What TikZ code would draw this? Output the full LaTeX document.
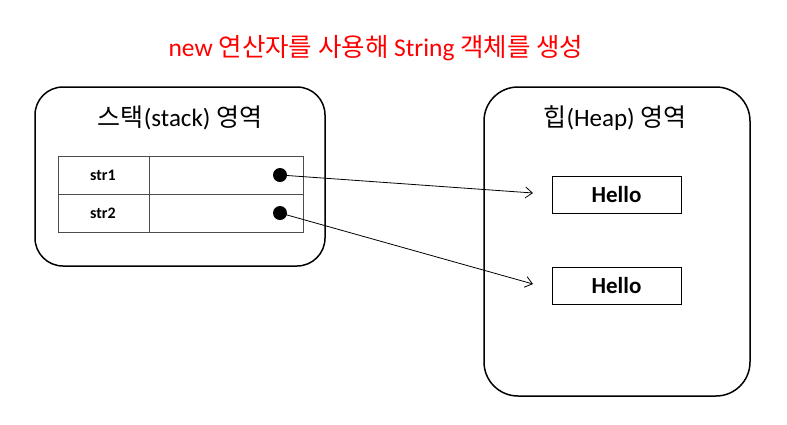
\documentclass[tikz,border=0pt]{standalone}
\usepackage{fontspec}
\setmainfont{Carlito}
\newfontfamily\kr{Noto Sans CJK KR}
\newcommand\K[1]{{\kr #1}}
\usetikzlibrary{arrows.meta}
\begin{document}
\begin{tikzpicture}[x=1pt,y=-1pt,
  region/.style={draw=black,line width=1.5pt,rounded corners=28pt},
  cellline/.style={draw=black!70,line width=0.8pt},
  objbox/.style={draw=black,line width=0.9pt,minimum width=129pt,minimum height=37pt,inner sep=0pt,font=\fontsize{23}{26}\selectfont\bfseries},
  varlbl/.style={font=\fontsize{16}{18}\selectfont\bfseries},
  ptr/.style={draw=black,line width=0.8pt,-{Straight Barb[length=7pt,width=11pt,line width=0.8pt]}},
  dotst/.style={circle,fill=black,inner sep=0pt,minimum size=14pt}]
\useasboundingbox (0,0) rectangle (787,424);
% title
\node[text=red,font=\fontsize{25.5}{28}\selectfont] (title) at (376,48) {new \K{연산자를 사용해} String \K{객체를 생성}};
% regions
\draw[region] (35,87) rectangle (325,266);
\draw[region,rounded corners=34pt] (484,87) rectangle (750,396);
\node[font=\fontsize{25}{28}\selectfont] (stacklbl) at (180,118) {\K{스택}(stack) \K{영역}};
\node[font=\fontsize{25}{28}\selectfont] (heaplbl) at (615,118) {\K{힙}(Heap) \K{영역}};
% table
\draw[cellline] (58,156) rectangle (303,232);
\draw[cellline] (58,194) -- (303,194);
\draw[cellline] (149,156) -- (149,232);
\node[varlbl] (s1) at (103,175) {str1};
\node[varlbl] (s2) at (103,213) {str2};
\node[dotst] (d1) at (280,175) {};
\node[dotst] (d2) at (280,213) {};
% heap objects
\node[objbox] (h1) at (616.5,194.5) {Hello};
\node[objbox] (h2) at (616.5,285.5) {Hello};
\coordinate (t1) at (533,193);
\coordinate (t2) at (533,284);
\draw[ptr] (d1.center) -- (t1);
\draw[ptr] (d2.center) -- (t2);
\end{tikzpicture}
\end{document}
